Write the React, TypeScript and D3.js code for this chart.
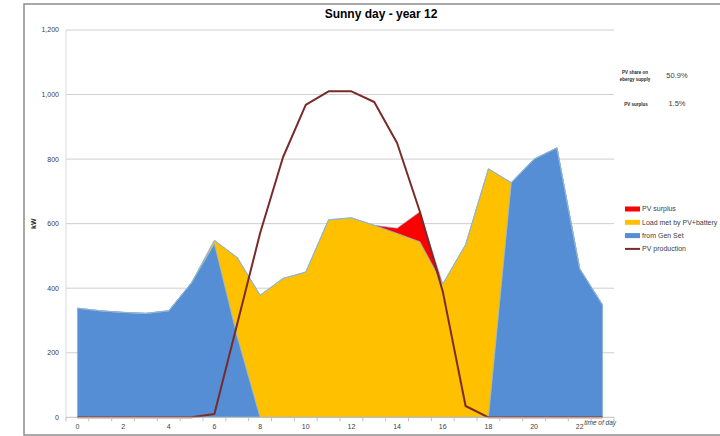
import React, { useRef, useEffect } from "react";
import * as d3 from "d3";

const hours = [0, 1, 2, 3, 4, 5, 6, 7, 8, 9, 10, 11, 12, 13, 14, 15, 16, 17, 18, 19, 20, 21, 22, 23];
const fromGenSet = [338, 330, 325, 322, 330, 417, 538, 250, 0, 0, 0, 0, 0, 0, 0, 0, 0, 0, 0, 727, 800, 835, 460, 348];
const loadMetByPV = [0, 0, 0, 0, 0, 0, 10, 245, 378, 430, 450, 612, 618, 595, 570, 544, 413, 535, 770, 0, 0, 0, 0, 0];
const pvSurplus = [0, 0, 0, 0, 0, 0, 0, 0, 0, 0, 0, 0, 0, 0, 16, 93, 0, 0, 0, 0, 0, 0, 0, 0];
const pvProduction = [0, 0, 0, 0, 0, 0, 10, 290, 570, 805, 968, 1010, 1010, 977, 850, 637, 390, 35, 0, 0, 0, 0, 0, 0];
const yTicks = [0, 200, 400, 600, 800, 1000, 1200];
const xLabels = [0, 2, 4, 6, 8, 10, 12, 14, 16, 18, 20, 22];

const legendItems = [
  { label: "PV surplus", color: "#FF0000", kind: "area" },
  { label: "Load met by PV+battery", color: "#FFC000", kind: "area" },
  { label: "from Gen Set", color: "#558ED5", kind: "area" },
  { label: "PV production", color: "#772C2A", kind: "line" },
];

const W = 720;
const H = 436;
const FONT = "'Liberation Sans', Arial, sans-serif";

const App = () => {
  const svgRef = useRef(null);

  useEffect(() => {
    const svg = d3.select(svgRef.current);
    svg.selectAll("*").remove();

    const margin = { top: 30, right: 106, bottom: 19, left: 66 };

    const x = d3
      .scaleBand()
      .domain(hours.map(String))
      .range([margin.left, W - margin.right])
      .padding(0);
    const cx = (h) => x(String(h)) + x.bandwidth() / 2;

    const y = d3
      .scaleLinear()
      .domain([0, 1200])
      .range([H - margin.bottom + 0.3, margin.top]);

    // outer frame
    svg
      .append("rect")
      .attr("x", 24)
      .attr("y", 4)
      .attr("width", 710)
      .attr("height", 431)
      .attr("fill", "white")
      .attr("stroke", "#8c8c8c")
      .attr("stroke-width", 1.5);

    // gridlines
    svg
      .append("g")
      .selectAll("line")
      .data(yTicks.filter((d) => d > 0))
      .join("line")
      .attr("x1", margin.left)
      .attr("x2", W - margin.right)
      .attr("y1", (d) => y(d))
      .attr("y2", (d) => y(d))
      .attr("stroke", "#cfcfcf")
      .attr("stroke-width", 1);

    // left axis line
    svg
      .append("line")
      .attr("x1", margin.left)
      .attr("x2", margin.left)
      .attr("y1", y(1200))
      .attr("y2", y(0))
      .attr("stroke", "#d9d9d9");

    // stacked areas
    const table = hours.map((h, i) => ({
      hour: h,
      genset: fromGenSet[i],
      loadpv: loadMetByPV[i],
      surplus: pvSurplus[i],
    }));
    const series = d3.stack().keys(["genset", "loadpv", "surplus"])(table);
    const colors = { genset: "#558ED5", loadpv: "#FFC000", surplus: "#FF0000" };

    const area = d3
      .area()
      .x((d) => cx(d.data.hour))
      .y0((d) => y(d[0]))
      .y1((d) => y(d[1]));

    svg
      .append("g")
      .selectAll("path")
      .data(series)
      .join("path")
      .attr("d", area)
      .attr("fill", (s) => colors[s.key])
      .attr("stroke", "#8fb3d1")
      .attr("stroke-width", 0.7)
      .attr("stroke-linejoin", "round");

    // PV production line
    const line = d3
      .line()
      .x((d, i) => cx(hours[i]))
      .y((d) => y(d));

    svg
      .append("path")
      .datum(pvProduction)
      .attr("d", line)
      .attr("fill", "none")
      .attr("stroke", "#772C2A")
      .attr("stroke-width", 2)
      .attr("stroke-linejoin", "round");

    // x axis
    const xAxisG = svg.append("g");
    xAxisG
      .append("line")
      .attr("x1", margin.left)
      .attr("x2", W - margin.right)
      .attr("y1", y(0))
      .attr("y2", y(0))
      .attr("stroke", "#bfbfbf");
    const bounds = hours.map((h) => x(String(h))).concat(W - margin.right);
    xAxisG
      .selectAll("line.tick")
      .data(bounds)
      .join("line")
      .attr("class", "tick")
      .attr("x1", (d) => d)
      .attr("x2", (d) => d)
      .attr("y1", y(0))
      .attr("y2", y(0) + 4)
      .attr("stroke", "#bfbfbf");
    xAxisG
      .selectAll("text")
      .data(xLabels)
      .join("text")
      .attr("x", (d) => cx(d))
      .attr("y", y(0) + 12)
      .attr("text-anchor", "middle")
      .attr("font-family", FONT)
      .attr("font-size", 7)
      .attr("fill", "#404040")
      .text((d) => d);

    svg
      .append("text")
      .attr("x", W - margin.right + 2)
      .attr("y", y(0) + 8)
      .attr("text-anchor", "end")
      .attr("font-family", FONT)
      .attr("font-size", 6.5)
      .attr("font-style", "italic")
      .attr("fill", "#404040")
      .text("time of day");

    // y axis labels
    svg
      .append("g")
      .selectAll("text")
      .data(yTicks)
      .join("text")
      .attr("x", margin.left - 7)
      .attr("y", (d) => y(d))
      .attr("dy", "0.35em")
      .attr("text-anchor", "end")
      .attr("font-family", FONT)
      .attr("font-size", 7)
      .attr("fill", "#404040")
      .text((d) => d3.format(",")(d));

    svg
      .append("text")
      .attr("transform", `translate(36,${y(600)}) rotate(-90)`)
      .attr("text-anchor", "middle")
      .attr("font-family", FONT)
      .attr("font-size", 7)
      .attr("font-weight", "bold")
      .attr("fill", "#262626")
      .text("kW");

    // title
    svg
      .append("text")
      .attr("x", 381)
      .attr("y", 18)
      .attr("text-anchor", "middle")
      .attr("font-family", FONT)
      .attr("font-size", 12)
      .attr("font-weight", "bold")
      .attr("fill", "#000")
      .text("Sunny day - year 12");

    // legend
    const legend = svg
      .append("g")
      .selectAll("g")
      .data(legendItems)
      .join("g")
      .attr("transform", (d, i) => `translate(625,${209 + i * 13.3})`);
    legend
      .filter((d) => d.kind === "area")
      .append("rect")
      .attr("x", 0)
      .attr("y", -2.5)
      .attr("width", 15)
      .attr("height", 5)
      .attr("fill", (d) => d.color);
    legend
      .filter((d) => d.kind === "line")
      .append("line")
      .attr("x1", 0)
      .attr("x2", 15)
      .attr("stroke", (d) => d.color)
      .attr("stroke-width", 2);
    legend
      .append("text")
      .attr("x", 17)
      .attr("dy", "0.35em")
      .attr("font-family", FONT)
      .attr("font-size", 7)
      .attr("fill", "#404040")
      .text((d) => d.label);

    // side notes
    const note = (txt, xx, yy) =>
      svg
        .append("text")
        .attr("x", xx)
        .attr("y", yy)
        .attr("text-anchor", "middle")
        .attr("font-family", FONT)
        .attr("font-size", 4.5)
        .attr("font-weight", "bold")
        .attr("fill", "#262626")
        .text(txt);
    note("PV share on", 635, 74);
    note("ebergy supply", 635, 81);
    note("PV surplus", 636, 106);

    const val = (txt, xx, yy) =>
      svg
        .append("text")
        .attr("x", xx)
        .attr("y", yy)
        .attr("text-anchor", "middle")
        .attr("font-family", FONT)
        .attr("font-size", 7.5)
        .attr("fill", "#404040")
        .text(txt);
    val("50.9%", 677, 78);
    val("1.5%", 677, 106);
  }, []);

  return (
    <div style={{ position: "absolute", left: 0, top: 0 }}>
      <svg ref={svgRef} width={W} height={H} style={{ display: "block" }} />
    </div>
  );
};

export default App;
